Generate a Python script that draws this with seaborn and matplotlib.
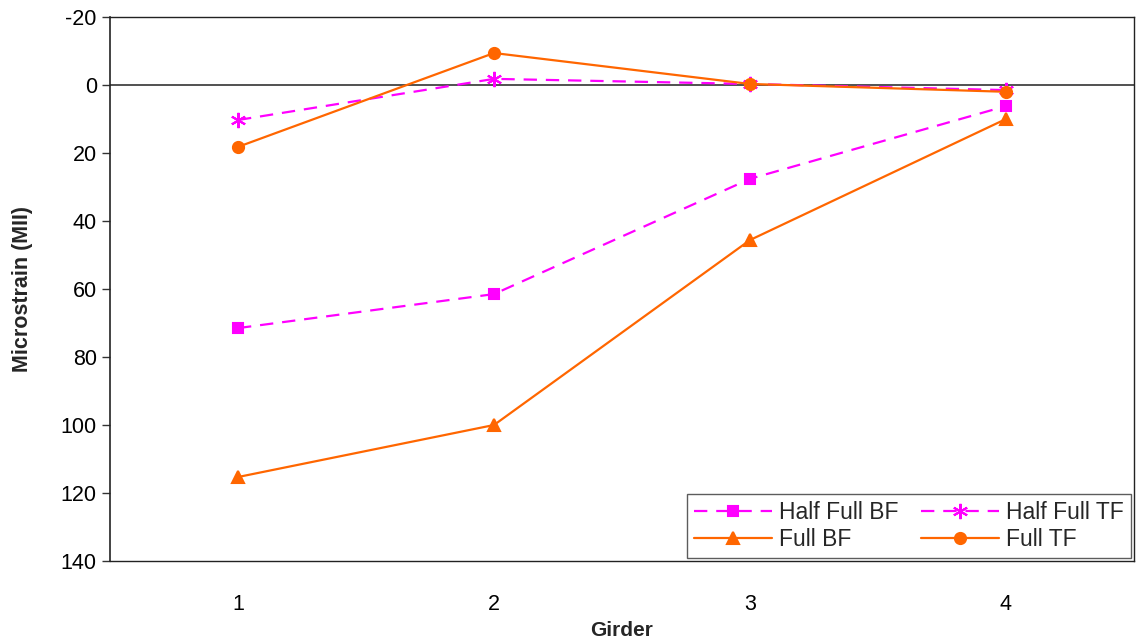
import numpy as np
import pandas as pd
import seaborn as sns
import matplotlib.pyplot as plt

# girder numbers and microstrain readings
girders = [1, 2, 3, 4]
half_full_bf = [71.5, 61.5, 27.6, 6.2]
half_full_tf = [10.3, -1.8, -0.3, 1.5]
full_bf = [115.3, 100.0, 45.6, 10.0]
full_tf = [18.2, -9.4, -0.3, 2.0]

y_ticks = [-20, 0, 20, 40, 60, 80, 100, 120, 140]

sns.set_theme(style="white")
plt.rcParams['font.family'] = ['Liberation Sans', 'DejaVu Sans']
plt.rcParams['axes.unicode_minus'] = False

fig = plt.figure(figsize=(11.39, 6.41), dpi=100)
ax = fig.add_axes([0.0966, 0.1248, 0.8990, 0.8487])

magenta = "#FF00FF"
orange = "#FF6600"

series = [
    ("Half Full BF", half_full_bf, magenta, (0, (6, 4)), "s", 7),
    ("Half Full TF", half_full_tf, magenta, (0, (6, 4)), (6, 2, 0), 11),
    ("Full BF", full_bf, orange, "-", "^", 8),
    ("Full TF", full_tf, orange, "-", "o", 8),
]

for label, vals, color, ls, marker, ms in series:
    df = pd.DataFrame({"girder": girders, "strain": vals})
    sns.lineplot(data=df, x="girder", y="strain", ax=ax, color=color,
                 linestyle=ls, marker=marker, markersize=ms, linewidth=1.6,
                 markeredgecolor=color, markeredgewidth=1.5, label=label)

ax.axhline(0, color="#333333", linewidth=1.2, zorder=1)

ax.set_xlim(0.5, 4.5)
ax.set_ylim(140, -20)
ax.set_xticks(girders)
ax.set_yticks(y_ticks)
ax.tick_params(axis="both", labelsize=15.5, colors="black")
ax.tick_params(axis="y", left=True, length=6, width=1, color="#333333")
ax.tick_params(axis="x", bottom=False, pad=18)

for side, sp in ax.spines.items():
    sp.set_visible(True)
    sp.set_color("#222222")
    sp.set_linewidth(1.2 if side == "left" else 1.0)

ax.set_xlabel("Girder", fontsize=15, fontweight="bold", labelpad=4)
ax.set_ylabel("Microstrain (MII)", fontsize=15.5, fontweight="bold", labelpad=20)

# legend is filled row by row in the reference
handles, labels = ax.get_legend_handles_labels()
order = [0, 2, 1, 3]
leg = ax.legend([handles[i] for i in order], [labels[i] for i in order],
                loc="lower right", ncol=2, fontsize=16.5, frameon=True,
                fancybox=False, borderaxespad=0.15, handlelength=3.4,
                columnspacing=1.0, handletextpad=0.3, borderpad=0.3,
                labelspacing=0.18)
leg.get_frame().set_edgecolor("#333333")
leg.get_frame().set_linewidth(1.0)

fig.savefig("out.png", dpi=100)
